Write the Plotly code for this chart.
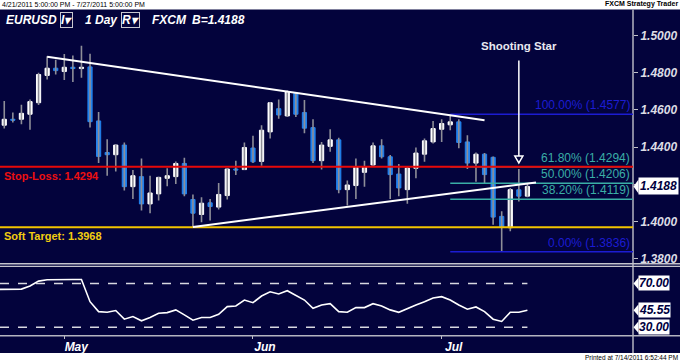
import plotly.graph_objects as go

W, H = 680, 363
NAVY = "#03033c"
FONT = "Liberation Sans, Arial, sans-serif"


def px_x(px):
    return px / W


def px_y(py):
    return 1 - py / H


# ---------------- data ----------------
bar_index = list(range(62))
opens = [1.4518, 1.4550, 1.4550, 1.4577, 1.4639, 1.4786, 1.4825, 1.4807, 1.4830, 1.4823,
         1.4832, 1.4541, 1.4371, 1.4359, 1.4411, 1.4187, 1.4241, 1.4094, 1.4148, 1.4232,
         1.4241, 1.4312, 1.4118, 1.4037, 1.4100, 1.4077, 1.4139, 1.4282, 1.4279, 1.4395,
         1.4323, 1.4482, 1.4607, 1.4568, 1.4689, 1.4586, 1.4505, 1.4327, 1.4404, 1.4439,
         1.4171, 1.4193, 1.4264, 1.4304, 1.4407, 1.4348, 1.4255, 1.4171, 1.4286, 1.4362,
         1.4428, 1.4496, 1.4520, 1.4536, 1.4428, 1.4314, 1.4362, 1.4345, 1.4027, 1.3966,
         1.4170, 1.4136]
highs = [1.4648, 1.4586, 1.4628, 1.4657, 1.4800, 1.4889, 1.4871, 1.4902, 1.4893, 1.4946,
         1.4903, 1.4589, 1.4443, 1.4416, 1.4425, 1.4277, 1.4339, 1.4246, 1.4241, 1.4286,
         1.4323, 1.4343, 1.4145, 1.4130, 1.4121, 1.4207, 1.4286, 1.4327, 1.4425, 1.4461,
         1.4518, 1.4643, 1.4657, 1.4705, 1.4696, 1.4654, 1.4550, 1.4428, 1.4496, 1.4450,
         1.4220, 1.4339, 1.4327, 1.4425, 1.4443, 1.4357, 1.4309, 1.4295, 1.4398, 1.4447,
         1.4541, 1.4550, 1.4577, 1.4550, 1.4464, 1.4371, 1.4368, 1.4350, 1.4055, 1.4180,
         1.4282, 1.4202]
lows = [1.4500, 1.4532, 1.4523, 1.4493, 1.4627, 1.4764, 1.4791, 1.4761, 1.4750, 1.4773,
        1.4505, 1.4314, 1.4246, 1.4268, 1.4166, 1.4121, 1.4059, 1.4044, 1.4112, 1.4189,
        1.4202, 1.4136, 1.3970, 1.3996, 1.4005, 1.4064, 1.4118, 1.4250, 1.4277, 1.4314,
        1.4300, 1.4446, 1.4553, 1.4562, 1.4562, 1.4475, 1.4314, 1.4279, 1.4375, 1.4152,
        1.4086, 1.4121, 1.4187, 1.4300, 1.4339, 1.4121, 1.4136, 1.4095, 1.4232, 1.4321,
        1.4420, 1.4428, 1.4491, 1.4394, 1.4282, 1.4214, 1.4207, 1.3982, 1.3836, 1.3947,
        1.4107, 1.4130]
closes = [1.4550, 1.4545, 1.4582, 1.4645, 1.4791, 1.4825, 1.4812, 1.4830, 1.4823, 1.4830,
          1.4537, 1.4350, 1.4359, 1.4411, 1.4187, 1.4246, 1.4094, 1.4153, 1.4237, 1.4246,
          1.4312, 1.4148, 1.4044, 1.4098, 1.4080, 1.4145, 1.4282, 1.4277, 1.4398, 1.4321,
          1.4491, 1.4639, 1.4573, 1.4698, 1.4577, 1.4502, 1.4327, 1.4411, 1.4439, 1.4171,
          1.4196, 1.4291, 1.4291, 1.4407, 1.4348, 1.4252, 1.4180, 1.4287, 1.4368, 1.4434,
          1.4500, 1.4527, 1.4536, 1.4425, 1.4314, 1.4362, 1.4252, 1.4023, 1.3970, 1.4171,
          1.4136, 1.4188]

osc_index = list(range(-1, 62))
osc_values = [64.5, 64.5, 64.5, 64.8, 67.6, 72.1, 73.3, 73.6, 73.6, 73.6, 73.6,
              53.3, 44.2, 43.6, 45.2, 37.3, 39.7, 35.8, 38.8, 42.7, 43.3,
              45.8, 41.2, 36.4, 38.8, 38.8, 41.8, 48.8, 49.4, 54.8, 52.4,
              58.5, 62.4, 60.3, 63.3, 58.8, 54.8, 47.3, 50.3, 51.5, 44.2,
              43.6, 47.9, 47.9, 51.5, 49.4, 45.8, 43.6, 47.3, 50.3, 53.3,
              56.7, 57.9, 54.8, 50.3, 46.4, 48.5, 44.2, 37.3, 35.2, 43.6,
              43.6, 45.55]

month_ticks = [7, 29, 51]
month_labels = ["May", "Jun", "Jul"]
price_ticks = [1.38, 1.40, 1.42, 1.44, 1.46, 1.48, 1.50]

stop_loss = 1.4294
soft_target = 1.3968
fib_start = 52
fib_levels = [1.4577, 1.4294, 1.4206, 1.4119, 1.3836]
fib_labels = ["100.00% (1.4577)", "61.80% (1.4294)", "50.00% (1.4206)",
              "38.20% (1.4119)", "0.00% (1.3836)"]
fib_colors = ["#1c1cd2", "#3aaea6", "#3aaea6", "#3aaea6", "#1c1cd2"]
upper_trend_x = [5, 56]
upper_trend_y = [1.4887, 1.4545]
lower_trend_x = [22, 62]
lower_trend_y = [1.3970, 1.4210]
last_price = 1.4188
osc_levels = [70, 30]
osc_last = 45.55
shooting_star_bar = 60
shooting_star_top = 1.4866
shooting_star_tip = 1.4352

# ---------------- geometry ----------------
X_RANGE = [-0.497, 73.31]
PRICE_RANGE = [1.3773, 1.5128]
OSC_RANGE = [22.7, 85.45]
XDOM = [0, 633 / W]

fig = go.Figure()

# wicks
wx, wy = [], []
for i, h, l in zip(bar_index, highs, lows):
    wx += [i, i, None]
    wy += [l, h, None]
fig.add_trace(go.Scatter(x=wx, y=wy, mode="lines", line=dict(color="#8e8e98", width=1.6),
                         hoverinfo="skip", showlegend=False, xaxis="x", yaxis="y"))

# bodies
body_hi = [max(o, c) for o, c in zip(opens, closes)]
body_lo = [min(o, c) for o, c in zip(opens, closes)]
fig.add_trace(go.Candlestick(
    x=bar_index, open=opens, high=body_hi, low=body_lo, close=closes,
    increasing=dict(line=dict(color="#ffffff", width=1), fillcolor="#ffffff"),
    decreasing=dict(line=dict(color="#2282ee", width=1), fillcolor="#2282ee"),
    hoverinfo="skip", showlegend=False, xaxis="x", yaxis="y"))

# oscillator
fig.add_trace(go.Scatter(x=osc_index, y=osc_values, mode="lines",
                         line=dict(color="#ffffff", width=1.6),
                         hoverinfo="skip", showlegend=False, xaxis="x2", yaxis="y2"))

shapes = []
# navy background
shapes.append(dict(type="rect", xref="paper", yref="paper", x0=0, x1=1,
                   y0=px_y(355), y1=px_y(9.5), fillcolor=NAVY, line=dict(width=0), layer="below"))
# frame lines
shapes.append(dict(type="line", xref="paper", yref="paper", x0=633 / W, x1=633 / W,
                   y0=px_y(355), y1=px_y(9.5), line=dict(color="#b4b4c0", width=1.5)))
for yy in (265.2, 267.8):
    shapes.append(dict(type="line", xref="paper", yref="paper", x0=0, x1=1,
                       y0=px_y(yy), y1=px_y(yy), line=dict(color="#c4c4cc", width=1.3)))
shapes.append(dict(type="line", xref="paper", yref="paper", x0=0, x1=1,
                   y0=px_y(337.5), y1=px_y(337.5), line=dict(color="#b4b4c0", width=1.5)))

# fib lines
for lvl, col in zip(fib_levels, fib_colors):
    shapes.append(dict(type="line", xref="x", yref="y", x0=fib_start, x1=X_RANGE[1],
                       y0=lvl, y1=lvl, line=dict(color=col, width=1.5)))
# stop loss / soft target
shapes.append(dict(type="line", xref="x", yref="y", x0=X_RANGE[0], x1=X_RANGE[1],
                   y0=stop_loss, y1=stop_loss, line=dict(color="#e80808", width=2)))
shapes.append(dict(type="line", xref="x", yref="y", x0=X_RANGE[0], x1=X_RANGE[1],
                   y0=soft_target, y1=soft_target, line=dict(color="#f2c400", width=2)))
# trend lines
shapes.append(dict(type="line", xref="x", yref="y", x0=upper_trend_x[0], x1=upper_trend_x[1],
                   y0=upper_trend_y[0], y1=upper_trend_y[1], line=dict(color="#ffffff", width=2)))
shapes.append(dict(type="line", xref="x", yref="y", x0=lower_trend_x[0], x1=lower_trend_x[1],
                   y0=lower_trend_y[0], y1=lower_trend_y[1], line=dict(color="#ffffff", width=2)))
# shooting star arrow
shapes.append(dict(type="line", xref="x", yref="y", x0=shooting_star_bar, x1=shooting_star_bar,
                   y0=shooting_star_top, y1=shooting_star_tip, line=dict(color="#ffffff", width=1.5)))
tri_h = 7 / 1867
shapes.append(dict(type="path", xref="x", yref="y",
                   path=f"M {shooting_star_bar - 0.47},{shooting_star_tip} L {shooting_star_bar + 0.47},{shooting_star_tip} "
                        f"L {shooting_star_bar},{shooting_star_tip - tri_h} Z",
                   line=dict(color="#ffffff", width=1.5), fillcolor=NAVY))
# oscillator dashed levels
for lv in osc_levels:
    shapes.append(dict(type="line", xref="x2", yref="y2", x0=X_RANGE[0], x1=61,
                       y0=lv, y1=lv, line=dict(color="#d8d8e0", width=1.5, dash="dash")))


# label notches
def notch(yref, val, half):
    return dict(type="path", xref="paper", yref=yref,
                path=f"M {633.5 / W},{val} L {638.5 / W},{val + half} L {638.5 / W},{val - half} Z",
                fillcolor="#ffffff", line=dict(width=0))


shapes.append(notch("y", last_price, 7 / 1867))
for v in (70, osc_last, 30):
    shapes.append(notch("y2", v, 6 / 1.1))

ann = []
small = dict(family=FONT, size=7, color="#000000")
ann.append(dict(text="4/21/2011 5:00:00 PM - 7/27/2011 5:00:00 PM", xref="paper", yref="paper",
                x=0, y=px_y(4.5), xanchor="left", yanchor="middle", showarrow=False, font=small))
ann.append(dict(text="<b>FXCM Strategy Trader</b>", xref="paper", yref="paper",
                x=1, y=px_y(4.5), xanchor="right", yanchor="middle", showarrow=False, font=small))
ann.append(dict(text="Printed at 7/14/2011 6:52:44 PM", xref="paper", yref="paper",
                x=1, y=px_y(359), xanchor="right", yanchor="middle", showarrow=False,
                font=dict(family=FONT, size=6.5, color="#000000")))

tfont = dict(family=FONT, size=12, color="#ffffff", weight="bold", style="italic")
for txt, xp, boxed in [("EURUSD", 4, False), ("I▾", 60, True), ("1 Day", 83, False),
                       ("R▾", 121, True), ("FXCM", 150, False), ("B=1.4188", 190, False)]:
    a = dict(text=txt, xref="paper", yref="paper", x=px_x(xp), y=px_y(20.5), xanchor="left",
             yanchor="middle", showarrow=False, font=tfont)
    if boxed:
        a.update(bordercolor="#c8c8d0", borderwidth=1, borderpad=0)
    ann.append(a)

ann.append(dict(text="Stop-Loss: 1.4294", xref="paper", yref="y", x=px_x(2), y=stop_loss,
                xanchor="left", yanchor="top", yshift=-1, showarrow=False,
                font=dict(family=FONT, size=11, color="#ee1010", weight="bold")))
ann.append(dict(text="Soft Target: 1.3968", xref="paper", yref="y", x=px_x(2), y=soft_target,
                xanchor="left", yanchor="top", yshift=-1, showarrow=False,
                font=dict(family=FONT, size=11, color="#f2cc10", weight="bold")))
for lvl, lab, col in zip(fib_levels, fib_labels, fib_colors):
    ann.append(dict(text=lab, xref="paper", yref="y", x=px_x(632), y=lvl, xanchor="right",
                    yanchor="bottom", yshift=0, showarrow=False,
                    font=dict(family=FONT, size=12, color=col)))
ann.append(dict(text="Shooting Star", xref="x", yref="paper", x=shooting_star_bar, y=px_y(46),
                xanchor="center", yanchor="middle", showarrow=False,
                font=dict(family=FONT, size=11.5, color="#e8e8f0", weight="bold")))

bfont = dict(family=FONT, size=12, color="#000040", weight="bold", style="italic")
ann.append(dict(text=f"{last_price:.4f}", xref="paper", yref="y", x=px_x(638), y=last_price,
                xanchor="left", yanchor="middle", showarrow=False, font=bfont,
                bgcolor="#ffffff", borderpad=1))
for v in (70, osc_last, 30):
    ann.append(dict(text=f"{v:.2f}", xref="paper", yref="y2", x=px_x(638), y=v,
                    xanchor="left", yanchor="middle", showarrow=False, font=bfont,
                    bgcolor="#ffffff", borderpad=0))

axfont = dict(family=FONT, size=12, color="#dcdce4", weight="bold", style="italic")
fig.update_layout(
    width=W, height=H, autosize=False,
    margin=dict(l=0, r=0, t=0, b=0, pad=0),
    paper_bgcolor="#ffffff", plot_bgcolor="rgba(0,0,0,0)",
    showlegend=False,
    xaxis=dict(domain=XDOM, range=X_RANGE, anchor="y", matches="x2", showticklabels=False,
               showgrid=False, zeroline=False, showline=False, ticks="",
               rangeslider=dict(visible=False), fixedrange=True),
    yaxis=dict(domain=[px_y(265), px_y(12)], range=PRICE_RANGE, anchor="x", side="right",
               tickvals=price_ticks, tickformat=".4f", ticks="outside", ticklen=4,
               tickcolor="#c0c0c8", tickfont=axfont, showgrid=False, zeroline=False,
               showline=False),
    xaxis2=dict(domain=XDOM, range=X_RANGE, anchor="y2", tickvals=month_ticks,
                ticktext=month_labels, ticks="outside", ticklen=3, tickcolor="#c0c0c8",
                tickfont=dict(family=FONT, size=12, color="#ffffff", weight="bold", style="italic"),
                ticklabelshift=12, ticklabelstandoff=-3, showgrid=False, zeroline=False,
                showline=False),
    yaxis2=dict(domain=[px_y(337), px_y(268)], range=OSC_RANGE, anchor="x2", side="right",
                showticklabels=False, ticks="", showgrid=False, zeroline=False, showline=False),
    shapes=shapes,
    annotations=ann,
)

fig.write_html("out.html", config={"displayModeBar": False},
               post_script="document.body.style.margin='0';document.body.style.overflow='hidden';")
